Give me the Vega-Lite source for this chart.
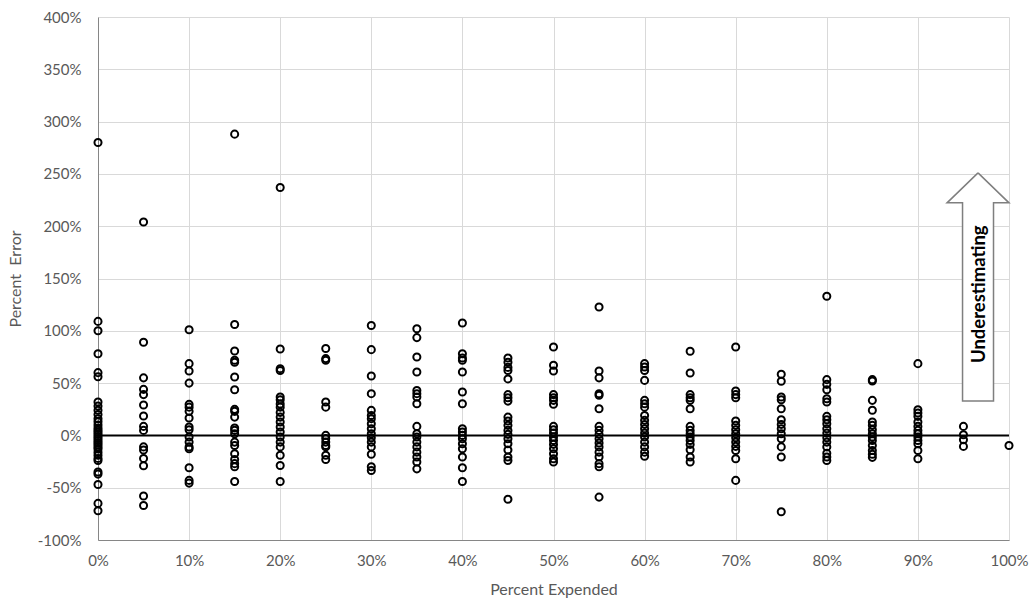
{
  "$schema": "https://vega.github.io/schema/vega-lite/v6.json",
  "autosize": {"type": "none"},
  "padding": {"left": 98, "top": 17, "right": 24, "bottom": 61},
  "width": 911,
  "height": 523,
  "background": "white",
  "config": {
    "view": {"stroke": null},
    "font": "Lato"
  },
  "datasets": {
    "errors": [
      {"x": 0, "y": 280}, {"x": 0, "y": 109}, {"x": 0, "y": 100}, {"x": 0, "y": 78}, {"x": 0, "y": 60}, {"x": 0, "y": 56},
      {"x": 0, "y": 32}, {"x": 0, "y": 28}, {"x": 0, "y": 24}, {"x": 0, "y": 20}, {"x": 0, "y": 16}, {"x": 0, "y": 13},
      {"x": 0, "y": 10}, {"x": 0, "y": 7}, {"x": 0, "y": 5}, {"x": 0, "y": 3}, {"x": 0, "y": 1}, {"x": 0, "y": -1},
      {"x": 0, "y": -3}, {"x": 0, "y": -5}, {"x": 0, "y": -7}, {"x": 0, "y": -9}, {"x": 0, "y": -11}, {"x": 0, "y": -13},
      {"x": 0, "y": -16}, {"x": 0, "y": -19}, {"x": 0, "y": -22}, {"x": 0, "y": -24}, {"x": 0, "y": -35}, {"x": 0, "y": -37},
      {"x": 0, "y": -47}, {"x": 0, "y": -65}, {"x": 0, "y": -72},

      {"x": 5, "y": 204}, {"x": 5, "y": 89}, {"x": 5, "y": 55}, {"x": 5, "y": 44}, {"x": 5, "y": 39}, {"x": 5, "y": 29},
      {"x": 5, "y": 18.5}, {"x": 5, "y": 8.6}, {"x": 5, "y": 4.8}, {"x": 5, "y": -11}, {"x": 5, "y": -14}, {"x": 5, "y": -22},
      {"x": 5, "y": -29}, {"x": 5, "y": -58}, {"x": 5, "y": -67},

      {"x": 10, "y": 101}, {"x": 10, "y": 68.6}, {"x": 10, "y": 61.5}, {"x": 10, "y": 50}, {"x": 10, "y": 29.7}, {"x": 10, "y": 27},
      {"x": 10, "y": 23}, {"x": 10, "y": 16.6}, {"x": 10, "y": 8}, {"x": 10, "y": 5.4}, {"x": 10, "y": -1.6}, {"x": 10, "y": -6.4},
      {"x": 10, "y": -11}, {"x": 10, "y": -12.8}, {"x": 10, "y": -31}, {"x": 10, "y": -43}, {"x": 10, "y": -45.6},

      {"x": 15, "y": 288}, {"x": 15, "y": 106}, {"x": 15, "y": 80.7}, {"x": 15, "y": 71.8}, {"x": 15, "y": 70}, {"x": 15, "y": 55.8},
      {"x": 15, "y": 43.7}, {"x": 15, "y": 24.9}, {"x": 15, "y": 23}, {"x": 15, "y": 17.5}, {"x": 15, "y": 7}, {"x": 15, "y": 4.8},
      {"x": 15, "y": 1.6}, {"x": 15, "y": -6.4}, {"x": 15, "y": -9.6}, {"x": 15, "y": -17.5}, {"x": 15, "y": -23}, {"x": 15, "y": -27},
      {"x": 15, "y": -30}, {"x": 15, "y": -44},

      {"x": 20, "y": 237}, {"x": 20, "y": 82.6}, {"x": 20, "y": 63.8}, {"x": 20, "y": 62}, {"x": 20, "y": 36.7}, {"x": 20, "y": 34},
      {"x": 20, "y": 30}, {"x": 20, "y": 27}, {"x": 20, "y": 22}, {"x": 20, "y": 17.5}, {"x": 20, "y": 12.8}, {"x": 20, "y": 8},
      {"x": 20, "y": 3.2}, {"x": 20, "y": -1.6}, {"x": 20, "y": -6.4}, {"x": 20, "y": -11}, {"x": 20, "y": -19}, {"x": 20, "y": -28.7},
      {"x": 20, "y": -44},

      {"x": 25, "y": 83}, {"x": 25, "y": 73.4}, {"x": 25, "y": 71.8}, {"x": 25, "y": 31.9}, {"x": 25, "y": 27}, {"x": 25, "y": 0},
      {"x": 25, "y": -3}, {"x": 25, "y": -6.4}, {"x": 25, "y": -9.6}, {"x": 25, "y": -11}, {"x": 25, "y": -19}, {"x": 25, "y": -23},

      {"x": 30, "y": 105}, {"x": 30, "y": 82}, {"x": 30, "y": 56.8}, {"x": 30, "y": 39.9}, {"x": 30, "y": 23.9}, {"x": 30, "y": 19},
      {"x": 30, "y": 16}, {"x": 30, "y": 11.2}, {"x": 30, "y": 6.4}, {"x": 30, "y": 1.6}, {"x": 30, "y": -2.2}, {"x": 30, "y": -6.4},
      {"x": 30, "y": -11}, {"x": 30, "y": -18}, {"x": 30, "y": -30}, {"x": 30, "y": -33.5},

      {"x": 35, "y": 102}, {"x": 35, "y": 93.5}, {"x": 35, "y": 75}, {"x": 35, "y": 60.6}, {"x": 35, "y": 43}, {"x": 35, "y": 39.9},
      {"x": 35, "y": 36.7}, {"x": 35, "y": 30.3}, {"x": 35, "y": 8.6}, {"x": 35, "y": 1.6}, {"x": 35, "y": -1.6}, {"x": 35, "y": -6.4},
      {"x": 35, "y": -11}, {"x": 35, "y": -16}, {"x": 35, "y": -20.7}, {"x": 35, "y": -25.5}, {"x": 35, "y": -32},

      {"x": 40, "y": 107.5}, {"x": 40, "y": 78}, {"x": 40, "y": 74}, {"x": 40, "y": 71.8}, {"x": 40, "y": 60.6}, {"x": 40, "y": 41.5},
      {"x": 40, "y": 30.3}, {"x": 40, "y": 6.4}, {"x": 40, "y": 3.2}, {"x": 40, "y": 0}, {"x": 40, "y": -3.2}, {"x": 40, "y": -8},
      {"x": 40, "y": -12.8}, {"x": 40, "y": -20.7}, {"x": 40, "y": -31}, {"x": 40, "y": -44},

      {"x": 45, "y": 74}, {"x": 45, "y": 70}, {"x": 45, "y": 65}, {"x": 45, "y": 62}, {"x": 45, "y": 54}, {"x": 45, "y": 39},
      {"x": 45, "y": 36}, {"x": 45, "y": 32.8}, {"x": 45, "y": 17.5}, {"x": 45, "y": 13.7}, {"x": 45, "y": 9.6}, {"x": 45, "y": 4.8},
      {"x": 45, "y": 1}, {"x": 45, "y": -3.2}, {"x": 45, "y": -8}, {"x": 45, "y": -14}, {"x": 45, "y": -20.7}, {"x": 45, "y": -24},
      {"x": 45, "y": -61},

      {"x": 50, "y": 84.5}, {"x": 50, "y": 67}, {"x": 50, "y": 61.5}, {"x": 50, "y": 39}, {"x": 50, "y": 36}, {"x": 50, "y": 33.5},
      {"x": 50, "y": 29.7}, {"x": 50, "y": 8.6}, {"x": 50, "y": 5.4}, {"x": 50, "y": 2.2}, {"x": 50, "y": -1.6}, {"x": 50, "y": -4.8},
      {"x": 50, "y": -8.6}, {"x": 50, "y": -12.8}, {"x": 50, "y": -17.5}, {"x": 50, "y": -22.3}, {"x": 50, "y": -25.5},

      {"x": 55, "y": 122.8}, {"x": 55, "y": 61.5}, {"x": 55, "y": 55}, {"x": 55, "y": 39.9}, {"x": 55, "y": 38.3}, {"x": 55, "y": 25.5},
      {"x": 55, "y": 8.6}, {"x": 55, "y": 4.8}, {"x": 55, "y": 1}, {"x": 55, "y": -3.2}, {"x": 55, "y": -7.3}, {"x": 55, "y": -11},
      {"x": 55, "y": -16}, {"x": 55, "y": -20.7}, {"x": 55, "y": -27}, {"x": 55, "y": -30}, {"x": 55, "y": -59},

      {"x": 60, "y": 68.6}, {"x": 60, "y": 65.4}, {"x": 60, "y": 62}, {"x": 60, "y": 52.6}, {"x": 60, "y": 33.5}, {"x": 60, "y": 30.3},
      {"x": 60, "y": 27}, {"x": 60, "y": 19}, {"x": 60, "y": 14.4}, {"x": 60, "y": 10.5}, {"x": 60, "y": 6.4}, {"x": 60, "y": 2.2},
      {"x": 60, "y": -1.6}, {"x": 60, "y": -6.4}, {"x": 60, "y": -11}, {"x": 60, "y": -16}, {"x": 60, "y": -20},

      {"x": 65, "y": 80.4}, {"x": 65, "y": 59.6}, {"x": 65, "y": 39}, {"x": 65, "y": 36}, {"x": 65, "y": 33.5}, {"x": 65, "y": 25.5},
      {"x": 65, "y": 8.6}, {"x": 65, "y": 4.8}, {"x": 65, "y": 1.6}, {"x": 65, "y": -1.6}, {"x": 65, "y": -4.8}, {"x": 65, "y": -8.6},
      {"x": 65, "y": -13.7}, {"x": 65, "y": -20.7}, {"x": 65, "y": -25.5},

      {"x": 70, "y": 84.5}, {"x": 70, "y": 42.4}, {"x": 70, "y": 39}, {"x": 70, "y": 36}, {"x": 70, "y": 13.7}, {"x": 70, "y": 9.6},
      {"x": 70, "y": 5.4}, {"x": 70, "y": 1.6}, {"x": 70, "y": -2.2}, {"x": 70, "y": -6.4}, {"x": 70, "y": -10.5}, {"x": 70, "y": -14.4},
      {"x": 70, "y": -22.3}, {"x": 70, "y": -43},

      {"x": 75, "y": 58.4}, {"x": 75, "y": 51.7}, {"x": 75, "y": 36.7}, {"x": 75, "y": 34}, {"x": 75, "y": 25.5}, {"x": 75, "y": 15},
      {"x": 75, "y": 10.5}, {"x": 75, "y": 6.4}, {"x": 75, "y": 1.6}, {"x": 75, "y": -3.2}, {"x": 75, "y": -11}, {"x": 75, "y": -20.7},
      {"x": 75, "y": -73},

      {"x": 80, "y": 133}, {"x": 80, "y": 53.3}, {"x": 80, "y": 48.8}, {"x": 80, "y": 43.7}, {"x": 80, "y": 35}, {"x": 80, "y": 31.9},
      {"x": 80, "y": 18.2}, {"x": 80, "y": 15}, {"x": 80, "y": 11.2}, {"x": 80, "y": 6.4}, {"x": 80, "y": 2.2}, {"x": 80, "y": -2.2},
      {"x": 80, "y": -6.4}, {"x": 80, "y": -11}, {"x": 80, "y": -17}, {"x": 80, "y": -20.7}, {"x": 80, "y": -24},

      {"x": 85, "y": 53.3}, {"x": 85, "y": 52}, {"x": 85, "y": 33.5}, {"x": 85, "y": 24}, {"x": 85, "y": 12.8}, {"x": 85, "y": 9.6},
      {"x": 85, "y": 5.4}, {"x": 85, "y": 1.6}, {"x": 85, "y": -1.6}, {"x": 85, "y": -4.8}, {"x": 85, "y": -9.6}, {"x": 85, "y": -14.4},
      {"x": 85, "y": -18}, {"x": 85, "y": -21},

      {"x": 90, "y": 68.6}, {"x": 90, "y": 24.6}, {"x": 90, "y": 21.4}, {"x": 90, "y": 18.2}, {"x": 90, "y": 12.8}, {"x": 90, "y": 8.6},
      {"x": 90, "y": 4.8}, {"x": 90, "y": 1.6}, {"x": 90, "y": -1.6}, {"x": 90, "y": -4.8}, {"x": 90, "y": -8}, {"x": 90, "y": -14.4},
      {"x": 90, "y": -22.3},

      {"x": 95, "y": 8.6}, {"x": 95, "y": 0.6}, {"x": 95, "y": -4.2}, {"x": 95, "y": -10.5},

      {"x": 100, "y": -9.6}
    ],
    "baseline": [
      {"y": 0}
    ],
    "arrow": [
      {"i": 1, "x": 96.6, "y": 251},
      {"i": 2, "x": 100.0, "y": 222.3},
      {"i": 3, "x": 98.3, "y": 222.3},
      {"i": 4, "x": 98.3, "y": 32.8},
      {"i": 5, "x": 94.9, "y": 32.8},
      {"i": 6, "x": 94.9, "y": 222.3},
      {"i": 7, "x": 93.2, "y": 222.3},
      {"i": 8, "x": 96.6, "y": 251}
    ],
    "note": [
      {"x": 96.7, "y": 135, "label": "Underestimating"}
    ]
  },
  "layer": [
    {
      "data": {"name": "errors"},
      "mark": {"type": "point", "shape": "circle", "filled": false, "stroke": "black", "strokeWidth": 2, "size": 50, "opacity": 1},
      "encoding": {
        "x": {
          "field": "x", "type": "quantitative",
          "scale": {"domain": [0, 100], "nice": false, "zero": false},
          "axis": {
            "values": [0, 10, 20, 30, 40, 50, 60, 70, 80, 90, 100],
            "labelExpr": "datum.value + '%'",
            "title": "Percent Expended",
            "grid": true, "gridColor": "#d9d9d9", "gridWidth": 1,
            "domain": true, "domainColor": "#868686", "domainWidth": 1,
            "ticks": false,
            "labelFont": "Lato", "labelFontSize": 15, "labelColor": "#595959", "labelPadding": 13,
            "labelFlush": false,
            "titleFont": "Lato", "titleFontSize": 16, "titleFontWeight": "normal", "titleColor": "#595959", "titlePadding": 13
          }
        },
        "y": {
          "field": "y", "type": "quantitative",
          "scale": {"domain": [-100, 400], "nice": false, "zero": false},
          "axis": {
            "values": [-100, -50, 0, 50, 100, 150, 200, 250, 300, 350, 400],
            "labelExpr": "datum.value + '%'",
            "title": "Percent\u00a0\u00a0Error",
            "grid": true, "gridColor": "#d9d9d9", "gridWidth": 1,
            "domain": true, "domainColor": "#868686", "domainWidth": 1,
            "ticks": false,
            "labelFont": "Lato", "labelFontSize": 15, "labelColor": "#595959", "labelPadding": 17,
            "labelFlush": false,
            "titleFont": "Lato", "titleFontSize": 16, "titleFontWeight": "normal", "titleColor": "#595959", "titlePadding": 14
          }
        }
      }
    },
    {
      "data": {"name": "baseline"},
      "mark": {"type": "rule", "color": "black", "strokeWidth": 2},
      "encoding": {"y": {"field": "y", "type": "quantitative"}}
    },
    {
      "data": {"name": "arrow"},
      "mark": {"type": "line", "fill": "white", "stroke": "#7f7f7f", "strokeWidth": 1.5, "strokeJoin": "miter"},
      "encoding": {
        "x": {"field": "x", "type": "quantitative"},
        "y": {"field": "y", "type": "quantitative"},
        "order": {"field": "i", "type": "quantitative"}
      }
    },
    {
      "data": {"name": "note"},
      "mark": {"type": "text", "angle": 270, "font": "Lato", "fontWeight": "bold", "fontSize": 18.5, "color": "black", "align": "center", "baseline": "middle"},
      "encoding": {
        "x": {"field": "x", "type": "quantitative"},
        "y": {"field": "y", "type": "quantitative"},
        "text": {"field": "label"}
      }
    }
  ]
}
